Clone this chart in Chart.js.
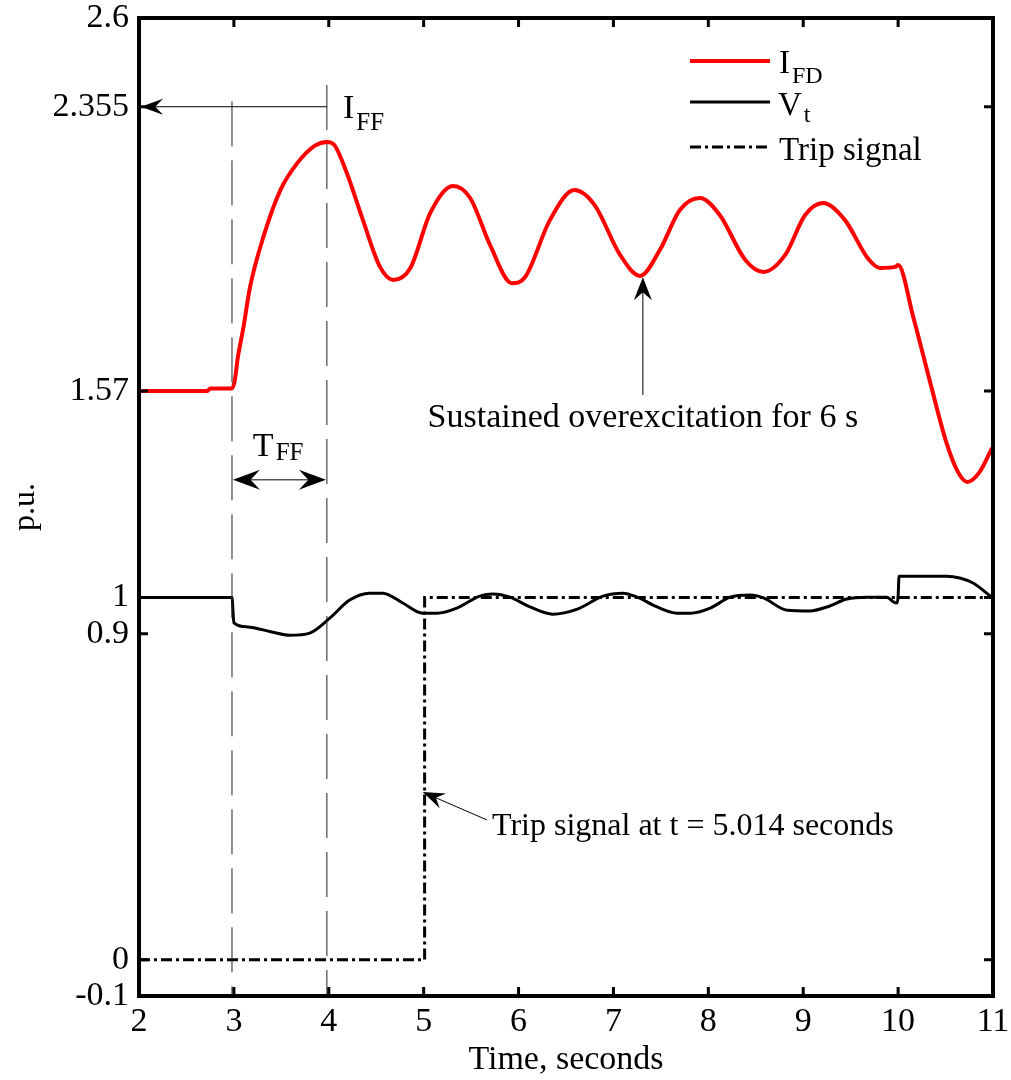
<!DOCTYPE html>
<html>
<head>
<meta charset="utf-8">
<script src="https://cdn.jsdelivr.net/npm/chart.js@4"></script>
<style>
  html, body { margin: 0; padding: 0; background: #fff; }
  #wrap { width: 1011px; height: 1080px; }
</style>
</head>
<body>
<div id="wrap"><canvas id="myChart" width="1011" height="1080"></canvas></div>
<script>
  // field current I_FD (p.u.)
  const timeIfd = [2.0, 2.72, 2.75, 2.98, 3.01, 3.04, 3.10, 3.17, 3.31, 3.49, 3.67, 3.85, 3.98, 4.06, 4.19, 4.36, 4.54, 4.68, 4.86,
    5.07, 5.31, 5.49, 5.70, 5.93, 6.07, 6.33, 6.59, 6.80, 7.07, 7.28, 7.49, 7.70, 7.91, 8.12, 8.39, 8.58, 8.81,
    9.02, 9.21, 9.44, 9.68, 9.81, 9.97, 10.0, 10.16, 10.34, 10.51, 10.63, 10.73, 10.86, 10.99];
  const valueIfd = [1.570, 1.570, 1.577, 1.577, 1.600, 1.660, 1.745, 1.857, 1.995, 2.125, 2.200, 2.247, 2.258, 2.249, 2.172, 2.042, 1.913, 1.877, 1.910,
    2.062, 2.136, 2.103, 1.973, 1.868, 1.885, 2.042, 2.125, 2.084, 1.946, 1.888, 1.960, 2.070, 2.103, 2.056, 1.932, 1.899, 1.946,
    2.056, 2.089, 2.042, 1.937, 1.910, 1.913, 1.918, 1.774, 1.592, 1.427, 1.347, 1.319, 1.347, 1.413];

  // terminal voltage V_t (p.u.)
  const timeVt = [2.0, 2.98, 3.0, 3.14, 3.40, 3.59, 3.80, 4.01, 4.22, 4.43, 4.57, 4.78, 4.99, 5.14, 5.35, 5.59, 5.73, 5.91,
    6.12, 6.36, 6.62, 6.89, 7.10, 7.25, 7.46, 7.67, 7.81, 8.02, 8.23, 8.44, 8.58, 8.83, 9.07, 9.25, 9.46, 9.67, 9.88,
    9.95, 9.99, 10.0, 10.01, 10.51, 10.65, 10.79, 10.99];
  const valueVt = [1.0, 1.0, 0.93, 0.919, 0.905, 0.896, 0.902, 0.943, 0.993, 1.012, 1.012, 0.985, 0.957, 0.957, 0.971, 1.004, 1.010, 1.001,
    0.974, 0.954, 0.968, 1.004, 1.012, 1.001, 0.974, 0.957, 0.957, 0.971, 1.001, 1.007, 0.999, 0.965, 0.963, 0.974, 0.996, 1.001, 1.001,
    0.988, 0.985, 1.003, 1.059, 1.059, 1.054, 1.040, 1.0];

  // trip signal
  const timeTrip = [2.0, 5.01, 5.01, 11.0];
  const valueTrip = [0, 0, 1, 1];

  const xTickValues = [2, 3, 4, 5, 6, 7, 8, 9, 10, 11];
  const yTickValues = [-0.1, 0, 0.9, 1, 1.57, 2.355, 2.6];

  const serif = "'Liberation Serif', 'Times New Roman', serif";

  const toPoints = (xs, ys) => xs.map((x, i) => ({ x: x, y: ys[i] }));

  function arrowHead(ctx, tx, ty, ang, len, wid) {
    const c = Math.cos(ang), s = Math.sin(ang);
    const bx = tx - c * len, by = ty - s * len;
    const nx = -s * wid / 2, ny = c * wid / 2;
    const mx = tx - c * len * 0.65, my = ty - s * len * 0.65;
    ctx.beginPath();
    ctx.moveTo(tx, ty);
    ctx.lineTo(bx + nx, by + ny);
    ctx.lineTo(mx, my);
    ctx.lineTo(bx - nx, by - ny);
    ctx.closePath();
    ctx.fill();
  }

  function subText(ctx, main, sub, x, y, size, subSize, subDy) {
    ctx.font = size + 'px ' + serif;
    ctx.textAlign = 'left';
    ctx.textBaseline = 'alphabetic';
    ctx.fillText(main, x, y);
    const w = ctx.measureText(main).width;
    ctx.font = subSize + 'px ' + serif;
    ctx.fillText(sub, x + w + 2, y + subDy);
  }

  const overlay = {
    id: 'overlay',
    afterDatasetsDraw(chart) {
      const ctx = chart.ctx;
      const xs = chart.scales.x, ys = chart.scales.y;
      const a = chart.chartArea;
      const px = v => xs.getPixelForValue(v);
      const py = v => ys.getPixelForValue(v);
      ctx.save();
      ctx.fillStyle = '#000';
      ctx.strokeStyle = '#000';

      // dashed guide lines
      ctx.lineWidth = 1;
      ctx.strokeStyle = '#222';
      ctx.setLineDash([45, 14]);
      ctx.beginPath();
      ctx.moveTo(px(2.98), py(2.37)); ctx.lineTo(px(2.98), a.bottom);
      ctx.moveTo(px(3.98), py(2.415)); ctx.lineTo(px(3.98), a.bottom);
      ctx.stroke();
      ctx.setLineDash([]);
      ctx.strokeStyle = '#000';

      // I_FF arrow
      ctx.beginPath();
      ctx.moveTo(px(3.98), py(2.355)); ctx.lineTo(px(2.0) + 10, py(2.355));
      ctx.stroke();
      arrowHead(ctx, px(2.0) + 2, py(2.355), Math.PI, 22, 16);
      subText(ctx, 'I', 'FF', px(4.15), py(2.324), 34, 25, 12);

      // T_FF double arrow
      ctx.beginPath();
      ctx.moveTo(px(2.98) + 10, py(1.325)); ctx.lineTo(px(3.98) - 10, py(1.325));
      ctx.stroke();
      arrowHead(ctx, px(2.98) + 1, py(1.325), Math.PI, 27, 20);
      arrowHead(ctx, px(3.98) - 1, py(1.325), 0, 27, 20);
      subText(ctx, 'T', 'FF', px(3.20), py(1.391), 34, 25, 4);

      // sustained overexcitation
      ctx.beginPath();
      ctx.moveTo(px(7.31), py(1.559)); ctx.lineTo(px(7.31), py(1.86));
      ctx.stroke();
      arrowHead(ctx, px(7.31), py(1.884), -Math.PI / 2, 23, 18);
      ctx.font = '34px ' + serif;
      ctx.textAlign = 'center';
      ctx.fillText('Sustained overexcitation for 6 s', px(7.31), py(1.471));

      // trip signal note
      const tx = px(4.99), ty = py(0.463), ex = px(5.667), ey = py(0.386);
      const ang = Math.atan2(ty - ey, tx - ex);
      ctx.beginPath();
      ctx.moveTo(ex, ey); ctx.lineTo(tx - Math.cos(ang) * 12, ty - Math.sin(ang) * 12);
      ctx.stroke();
      arrowHead(ctx, tx, ty, ang, 22, 16);
      ctx.font = '32px ' + serif;
      ctx.textAlign = 'left';
      ctx.fillText('Trip signal at t = 5.014 seconds', px(5.72), py(0.344));

      // legend
      ctx.lineWidth = 4;
      ctx.strokeStyle = '#ff0000';
      ctx.beginPath(); ctx.moveTo(690, 61); ctx.lineTo(770, 61); ctx.stroke();
      ctx.lineWidth = 3;
      ctx.strokeStyle = '#000';
      ctx.beginPath(); ctx.moveTo(690, 102); ctx.lineTo(770, 102); ctx.stroke();
      ctx.setLineDash([11, 4, 3, 4]);
      ctx.beginPath(); ctx.moveTo(690, 147); ctx.lineTo(770, 147); ctx.stroke();
      ctx.setLineDash([]);
      subText(ctx, 'I', 'FD', 779, 73, 33, 24, 10);
      subText(ctx, 'V', 't', 778, 115, 33, 24, 7);
      ctx.font = '33px ' + serif;
      ctx.fillText('Trip signal', 779, 160);

      // frame and inward ticks
      ctx.lineWidth = 4;
      ctx.strokeRect(a.left, a.top, a.right - a.left, a.bottom - a.top);
      ctx.lineWidth = 3;
      ctx.beginPath();
      xTickValues.forEach(v => {
        const x = px(v);
        ctx.moveTo(x, a.bottom); ctx.lineTo(x, a.bottom - 9);
        ctx.moveTo(x, a.top); ctx.lineTo(x, a.top + 9);
      });
      yTickValues.forEach(v => {
        const y = py(v);
        ctx.moveTo(a.left, y); ctx.lineTo(a.left + 9, y);
        ctx.moveTo(a.right, y); ctx.lineTo(a.right - 9, y);
      });
      ctx.stroke();
      ctx.restore();
    }
  };

  const ctx = document.getElementById('myChart').getContext('2d');
  const myChart = new Chart(ctx, {
    type: 'scatter',
    data: {
      datasets: [{
        label: 'I_FD',
        data: toPoints(timeIfd, valueIfd),
        showLine: true,
        borderColor: '#ff0000',
        borderWidth: 4,
        pointRadius: 0,
        cubicInterpolationMode: 'monotone'
      }, {
        label: 'V_t',
        data: toPoints(timeVt, valueVt),
        showLine: true,
        borderColor: '#000',
        borderWidth: 3,
        pointRadius: 0,
        cubicInterpolationMode: 'monotone'
      }, {
        label: 'Trip signal',
        data: toPoints(timeTrip, valueTrip),
        showLine: true,
        borderColor: '#000',
        borderWidth: 3,
        borderDash: [11, 4, 3, 4],
        pointRadius: 0,
        tension: 0
      }]
    },
    options: {
      responsive: false,
      animation: false,
      layout: { padding: { top: 18, right: 18, left: 0, bottom: 0 } },
      plugins: {
        legend: { display: false },
        tooltip: { enabled: false }
      },
      scales: {
        x: {
          type: 'linear',
          min: 2,
          max: 11,
          grid: { display: false, drawTicks: false },
          border: { display: false },
          ticks: {
            color: '#000',
            padding: 6,
            font: { family: serif, size: 34 },
            maxRotation: 0,
            autoSkip: false
          },
          title: {
            display: true,
            text: 'Time, seconds',
            color: '#000',
            font: { family: serif, size: 34 },
            padding: { top: 0, bottom: 0 }
          },
          afterBuildTicks: s => { s.ticks = xTickValues.map(v => ({ value: v })); },
          afterFit: s => { s.height = 84; s.paddingLeft = 0; s.paddingRight = 0; }
        },
        y: {
          min: -0.1,
          max: 2.6,
          grid: { display: false, drawTicks: false },
          border: { display: false },
          ticks: {
            color: '#000',
            padding: 10,
            font: { family: serif, size: 34 },
            autoSkip: false,
            callback: v => String(v)
          },
          title: {
            display: true,
            text: 'p.u.',
            color: '#000',
            font: { family: serif, size: 32 },
            padding: { top: 6, bottom: 0 }
          },
          afterBuildTicks: s => { s.ticks = yTickValues.map(v => ({ value: v })); },
          afterFit: s => { s.width = 139; s.paddingTop = 0; s.paddingBottom = 0; }
        }
      }
    },
    plugins: [overlay]
  });
</script>
</body>
</html>
